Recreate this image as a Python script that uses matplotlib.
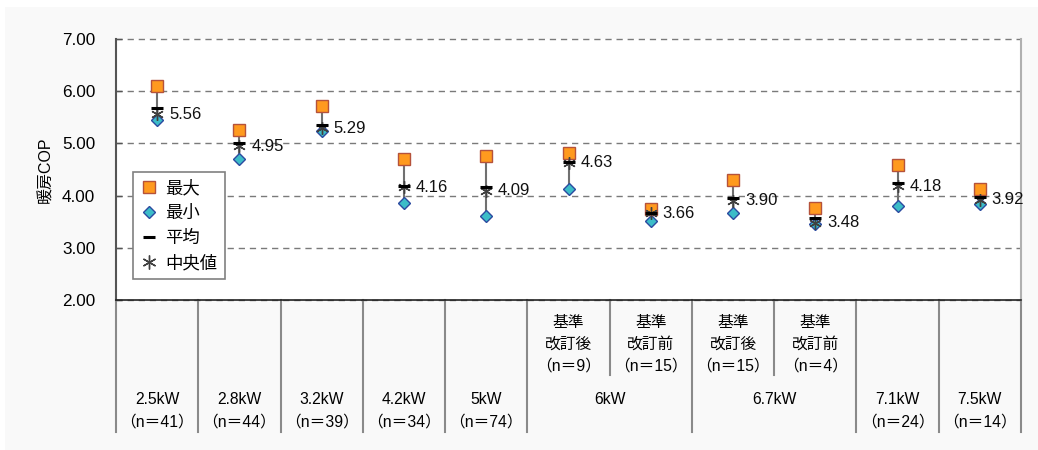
import matplotlib
matplotlib.use('agg')
from matplotlib import pyplot as plt
from matplotlib import patches as pltpatches
from matplotlib.lines import Line2D
import numpy as np


plt.rcParams['font.family'] = ['Liberation Sans', 'Noto Sans CJK JP', 'DejaVu Sans']

# values
cop_max = [6.10, 5.26, 5.72, 4.70, 4.76, 4.81, 3.74, 4.29, 3.76, 4.59, 4.13]
cop_min = [5.44, 4.71, 5.24, 3.85, 3.61, 4.12, 3.52, 3.66, 3.46, 3.80, 3.84]
cop_mean = [5.67, 5.00, 5.35, 4.18, 4.17, 4.65, 3.66, 3.96, 3.57, 4.25, 3.98]
cop_median = [5.56, 4.95, 5.29, 4.16, 4.09, 4.63, 3.66, 3.90, 3.48, 4.18, 3.92]

sub_labels = ['', '', '', '', '',
              '基準\n改訂後\n（n＝9）', '基準\n改訂前\n（n＝15）',
              '基準\n改訂後\n（n＝15）', '基準\n改訂前\n（n＝4）',
              '', '']
# (label, first category, last category), 1-based
group_labels = [
    ('2.5kW\n（n＝41）', 1, 1),
    ('2.8kW\n（n＝44）', 2, 2),
    ('3.2kW\n（n＝39）', 3, 3),
    ('4.2kW\n（n＝34）', 4, 4),
    ('5kW\n（n＝74）', 5, 5),
    ('6kW', 6, 7),
    ('6.7kW', 8, 9),
    ('7.1kW\n（n＝24）', 10, 10),
    ('7.5kW\n（n＝14）', 11, 11),
]
legend_labels = ['最大', '最小', '平均', '中央値']

W, H = 1038, 450
fig = plt.figure(figsize=(W / 100, H / 100), dpi=100, facecolor='white')
fig.patches.append(pltpatches.Rectangle(
    (5 / W, 0), 1, (H - 7) / H, transform=fig.transFigure,
    facecolor='#f9f9f9', edgecolor='none', zorder=-1))

ax_l, ax_r, ax_t, ax_b = 116, 1021, 39, 300
ax = fig.add_axes([ax_l / W, 1 - ax_b / H, (ax_r - ax_l) / W, (ax_b - ax_t) / H])
ax.set_facecolor('white')

x = np.arange(1, len(cop_max) + 1)

ax.vlines(x, cop_min, cop_max, color='#707070', lw=1.5, zorder=2)
ax.plot(x, cop_median, ls='none', marker=(6, 2, 0), ms=9, mew=1.0,
        color='#404040', zorder=4)
ax.plot(x, cop_mean, ls='none', marker='_', ms=8.5, mew=2.2, color='black', zorder=5)
ax.plot(x, cop_min, ls='none', marker='D', ms=6, mfc='#3cbcc8', mec='#2b4aa0',
        mew=1.0, zorder=3)
ax.plot(x, cop_max, ls='none', marker='s', ms=8, mfc='#ff9a1e', mec='#b5523b',
        mew=1.0, zorder=3)

for xi, v in zip(x, cop_median):
    ax.annotate('%.2f' % v, (xi, v), xytext=(8.5, 0), textcoords='offset points',
                va='center', ha='left', fontsize=12, color='#111111', zorder=6)

ax.set_xlim(0.5, len(x) + 0.5)
ax.set_ylim(2, 7)
ax.set_yticks(np.arange(2, 8, 1))
ax.set_yticklabels(['%.2f' % t for t in np.arange(2, 8, 1)])
ax.set_xticks([])
ax.tick_params(axis='y', direction='in', length=4, width=1, color='#555555',
               labelsize=12.3, pad=15)
ax.yaxis.grid(True, color='#7a7a7a', lw=1, ls=(0, (4.5, 3.5)))
for gl in ax.get_ygridlines():
    gl.set_clip_on(False)
ax.set_axisbelow(True)

ax.spines['top'].set_visible(False)
ax.spines['left'].set_color('#555555')
ax.spines['left'].set_linewidth(1.5)
ax.spines['right'].set_color('#b0b0b0')
ax.spines['right'].set_linewidth(1.5)
ax.spines['bottom'].set_color('#222222')
ax.spines['bottom'].set_linewidth(1.2)

ax.set_ylabel('暖房COP', fontsize=11.5)
ax.yaxis.set_label_coords((53 - ax_l) / (ax_r - ax_l), 0.5)

# category table below the axis
trans = ax.get_xaxis_transform()
ax_h = ax_b - ax_t


def frac(py):
    return (ax_b - py) / ax_h


group_edges = set()
for label, a, b in group_labels:
    group_edges.add(a - 0.5)
    group_edges.add(b + 0.5)
for edge in np.arange(0.5, len(x) + 1, 1.0):
    bottom = frac(432) if edge in group_edges else frac(375)
    ax.plot([edge, edge], [0, bottom], transform=trans, color='#8a8a8a',
            lw=1.5, clip_on=False)

for xi, label in zip(x, sub_labels):
    for i, line in enumerate(label.split('\n') if label else []):
        ax.text(xi, frac(323 + 21.5 * i), line, transform=trans, ha='center',
                va='center', fontsize=11.3)

for label, a, b in group_labels:
    for i, line in enumerate(label.split('\n')):
        ax.text((a + b) / 2, frac(399 + 23 * i), line, transform=trans,
                ha='center', va='center', fontsize=11.3)

handles = [
    Line2D([], [], ls='none', marker='s', ms=8, mfc='#ff9a1e', mec='#b5523b', mew=1.0),
    Line2D([], [], ls='none', marker='D', ms=6, mfc='#3cbcc8', mec='#2b4aa0', mew=1.0),
    Line2D([], [], ls='none', marker='_', ms=9, mew=2.2, color='black'),
    Line2D([], [], ls='none', marker=(6, 2, 0), ms=10, mew=1.0, color='#404040'),
]
leg = ax.legend(handles, legend_labels, loc='upper left',
                bbox_to_anchor=((133 - ax_l) / (ax_r - ax_l), frac(172)),
                fancybox=False, framealpha=1, edgecolor='#808080', fontsize=12.5,
                handlelength=1.0, handletextpad=0.4, labelspacing=0.5,
                borderpad=0.45, borderaxespad=0)
leg.get_frame().set_linewidth(1.2)

fig.savefig('out.png', dpi=100, facecolor=fig.get_facecolor())
